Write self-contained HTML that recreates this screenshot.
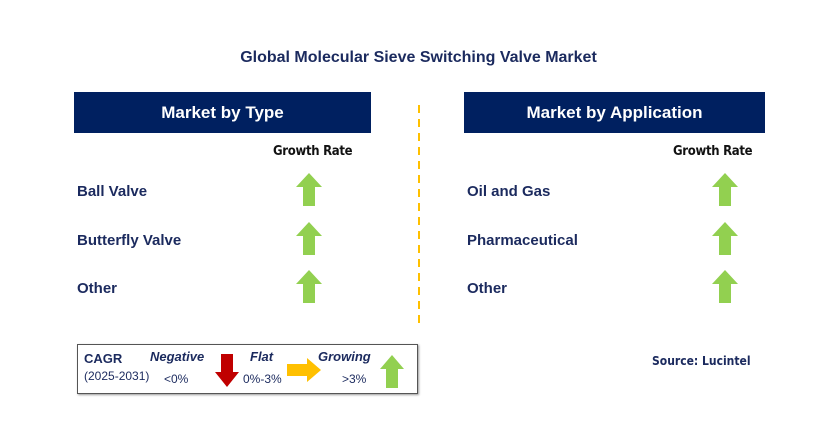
<!DOCTYPE html>
<html><head><meta charset="utf-8"><style>
body{margin:0;width:829px;height:425px;background:#fff;position:relative;overflow:hidden;font-family:"Liberation Sans",Arial,sans-serif}
.a{position:absolute;white-space:nowrap}
.t{color:#1b2a5e;font-weight:bold}
.hdr{position:absolute;background:#002060;color:#fff;font-weight:bold;font-size:17px;display:flex;align-items:center;justify-content:center;height:41px;top:92px}
.lbl{position:absolute;color:#1b2a5e;font-weight:bold;font-size:15px}
.gr{position:absolute;font-family:"DejaVu Sans Condensed","Liberation Sans",sans-serif;font-size:13px;color:#111;font-weight:bold;letter-spacing:-0.3px}
</style></head><body>
<div class="a t" style="left:0;width:837px;text-align:center;top:49px;font-size:16px">Global Molecular Sieve Switching Valve Market</div>
<div class="hdr" style="left:74px;width:297px">Market by Type</div>
<div class="hdr" style="left:464px;width:301px">Market by Application</div>
<div class="gr" style="left:273px;top:144px">Growth Rate</div>
<div class="gr" style="left:673px;top:144px">Growth Rate</div>
<svg class="a" style="left:415px;top:100px" width="10" height="226"><line x1="4" y1="5" x2="4" y2="224" stroke="#ffc000" stroke-width="2" stroke-dasharray="8,6"/></svg>
<div id="rows"></div>
<div class="a" style="left:77px;top:344px;width:339px;height:48px;border:1px solid #555;box-shadow:1px 1px 2px #999"></div>
<div class="a t" style="left:84px;top:351px;font-size:13px">CAGR</div>
<div class="a" style="left:84px;top:369px;font-size:12px;color:#1b2a5e">(2025-2031)</div>
<div class="a t" style="left:150px;top:349px;font-size:13px;font-style:italic">Negative</div>
<div class="a" style="left:164px;top:372px;font-size:12px;color:#1b2a5e">&lt;0%</div>
<svg class="a" style="left:215px;top:354px" width="24" height="33"><polygon points="6,0 18,0 18,18 24,18 12,33 0,18 6,18" fill="#c00000"/></svg>
<div class="a t" style="left:250px;top:349px;font-size:13px;font-style:italic">Flat</div>
<div class="a" style="left:243px;top:372px;font-size:12px;color:#1b2a5e">0%-3%</div>
<svg class="a" style="left:287px;top:358px" width="34" height="24"><polygon points="0,6 20,6 20,0 34,12 20,24 20,18 0,18" fill="#ffc000"/></svg>
<div class="a t" style="left:318px;top:349px;font-size:13px;font-style:italic">Growing</div>
<div class="a" style="left:342px;top:372px;font-size:12px;color:#1b2a5e">&gt;3%</div>
<svg class="a" style="left:380px;top:355px" width="24" height="33"><polygon points="12,0 24,14 18,14 18,33 6,33 6,14 0,14" fill="#92d050"/></svg>
<div class="a t" style="left:652px;top:354px;font-size:12px;font-family:'DejaVu Sans Condensed','Liberation Sans',sans-serif">Source: Lucintel</div>
<script>
const typeCategories=["Ball Valve","Butterfly Valve","Other"];
const appCategories=["Oil and Gas","Pharmaceutical","Other"];
const typeGrowth=["up","up","up"];
const appGrowth=["up","up","up"];
const rows=document.getElementById('rows');
function addCol(cats,growth,lx,ax,prefix){
 cats.forEach((c,i)=>{
  const y=180+i*48.5;
  const l=document.createElement('div');
  l.className='lbl';l.style.left=lx+'px';l.style.top=(y+3)+'px';l.textContent=c;
  
  
  rows.appendChild(l);
  const s=document.createElementNS('http://www.w3.org/2000/svg','svg');
  s.setAttribute('width','26');s.setAttribute('height','33');
  s.setAttribute('class','a');s.style.left=ax+'px';s.style.top=(y-7)+'px';
  
  
  const p=document.createElementNS('http://www.w3.org/2000/svg','polygon');
  p.setAttribute('points',growth[i]==='down'?'7,0 19,0 19,19 26,19 13,33 0,19 7,19':'13,0 26,14 19,14 19,33 7,33 7,14 0,14');
  p.setAttribute('fill',growth[i]==='down'?'#c00000':'#92d050');
  s.appendChild(p);rows.appendChild(s);
 });
}
addCol(typeCategories,typeGrowth,77,296,'type');
addCol(appCategories,appGrowth,467,712,'application');
</script>
</body></html>
